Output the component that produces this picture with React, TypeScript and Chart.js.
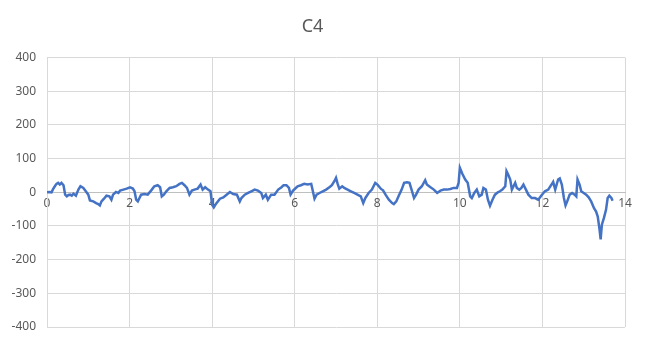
import React, { useEffect, useRef } from "react";
import { Chart, registerables } from "chart.js";

Chart.register(...registerables);

const xValues = [
  0, 0.05, 0.11, 0.15, 0.19, 0.23, 0.27, 0.31, 0.35, 0.4, 0.44, 0.48, 0.52, 0.56, 0.6, 0.64, 0.7, 0.76, 0.81, 0.88,
  0.94, 1.0, 1.04, 1.12, 1.19, 1.24, 1.28, 1.32, 1.38, 1.44, 1.51, 1.56, 1.6, 1.67, 1.73, 1.77, 1.85, 1.93, 2.01,
  2.08, 2.12, 2.16, 2.2, 2.24, 2.28, 2.36, 2.44, 2.52, 2.6, 2.68, 2.74, 2.78, 2.83, 2.89, 2.97, 3.05, 3.13, 3.21,
  3.27, 3.33, 3.39, 3.45, 3.51, 3.57, 3.65, 3.72, 3.77, 3.83, 3.9, 3.96, 4.0, 4.04, 4.1, 4.19, 4.27, 4.35, 4.43,
  4.51, 4.6, 4.67, 4.71, 4.79, 4.87, 4.95, 5.03, 5.11, 5.19, 5.23, 5.3, 5.35, 5.43, 5.51, 5.6, 5.68, 5.73, 5.8,
  5.86, 5.9, 5.96, 6.02, 6.07, 6.15, 6.23, 6.31, 6.4, 6.44, 6.48, 6.53, 6.6, 6.68, 6.76, 6.84, 6.9, 6.96, 7.0,
  7.04, 7.08, 7.15, 7.2, 7.28, 7.36, 7.44, 7.52, 7.6, 7.66, 7.71, 7.79, 7.87, 7.95, 8.01, 8.09, 8.14, 8.2, 8.28,
  8.36, 8.4, 8.46, 8.52, 8.59, 8.65, 8.72, 8.78, 8.83, 8.89, 8.94, 9.0, 9.08, 9.16, 9.2, 9.28, 9.37, 9.45, 9.53,
  9.61, 9.69, 9.77, 9.85, 9.93, 9.97, 10.0, 10.06, 10.13, 10.19, 10.25, 10.29, 10.35, 10.41, 10.47, 10.53, 10.57,
  10.63, 10.68, 10.73, 10.79, 10.85, 10.92, 10.97, 11.03, 11.1, 11.13, 11.17, 11.22, 11.26, 11.3, 11.34, 11.38,
  11.44, 11.49, 11.54, 11.6, 11.66, 11.74, 11.82, 11.9, 11.97, 12.06, 12.14, 12.22, 12.26, 12.31, 12.38, 12.42,
  12.47, 12.52, 12.56, 12.6, 12.66, 12.72, 12.78, 12.82, 12.85, 12.9, 12.94, 13.0, 13.06, 13.12, 13.18, 13.25,
  13.3, 13.34, 13.38, 13.41, 13.44, 13.49, 13.54, 13.58, 13.62, 13.67, 13.7,
];

const yValues = [
  0, 1, 0, 10, 18, 25, 28, 23, 28, 21, -7, -12, -8, -7, -10, -4, -10, 8, 18, 13,
  3, -7, -24, -27, -32, -35, -39, -27, -19, -10, -12, -22, -7, 1, -2, 5, 8, 11, 15,
  11, 3, -22, -27, -17, -7, -5, -7, 5, 18, 21, 15, -12, -7, 3, 13, 15, 18, 25,
  28, 21, 13, -7, 5, 8, 11, 23, 8, 15, 8, 3, -37, -45, -33, -19, -15, -7, 1,
  -5, -7, -27, -17, -7, -2, 3, 8, 5, -2, -17, -7, -22, -7, -7, 8, 15, 21, 21,
  13, -7, 5, 12, 18, 21, 25, 23, 25, 3, -19, -7, -2, 3, 8, 15, 21, 33, 43,
  25, 11, 18, 13, 8, 3, -2, -7, -12, -32, -17, -2, 8, 28, 22, 10, 6, -7, -22,
  -32, -35, -27, -10, 8, 28, 30, 28, 8, -17, -7, 8, 18, 36, 23, 16, 8, -2, 5,
  8, 8, 10, 13, 13, 28, 73, 55, 38, 28, -12, -17, -2, 8, -12, -7, 13,
  8, -22, -40, -22, -7, 0, 3, 8, 18, 63, 53, 38, 8, 18, 28, 13,
  8, 13, 23, 8, -7, -17, -17, -22, -10, 3, 8, 23, 31, 8, 38, 41,
  23, -17, -39, -27, -7, -2, -7, -12, 38, 23, 3, -2, -7, -15, -27, -47,
  -57, -72, -107, -140, -96, -76, -52, -17, -10, -17, -25,
];

const titleText = "C4";
const xTicks = { min: 0, max: 14, step: 2 };
const yTicks = { min: -400, max: 400, step: 100 };

export default function App() {
  const ref = useRef<HTMLCanvasElement | null>(null);

  useEffect(() => {
    if (!ref.current) return;
    const points = xValues.map((x, i) => ({ x, y: yValues[i] }));
    const font = { family: "'Noto Sans', 'Open Sans', sans-serif", size: 12 };
    const chart = new Chart(ref.current, {
      type: "scatter",
      data: {
        datasets: [
          {
            data: points,
            showLine: true,
            borderColor: "#4472C4",
            backgroundColor: "#4472C4",
            borderWidth: 2.5,
            pointRadius: 0,
            tension: 0,
          },
        ],
      },
      options: {
        animation: false,
        responsive: false,
        maintainAspectRatio: false,
        layout: { padding: { top: 16, right: 21, bottom: 13, left: 0 } },
        plugins: {
          legend: { display: false },
          tooltip: { enabled: false },
          title: {
            display: true,
            text: titleText,
            color: "#595959",
            font: { family: "'Noto Sans', 'Open Sans', sans-serif", size: 18, weight: "normal" },
            padding: { top: 0, bottom: 20 },
          },
        },
        scales: {
          x: {
            type: "linear",
            position: { y: 0 },
            min: xTicks.min,
            max: xTicks.max,
            ticks: { stepSize: xTicks.step, color: "#595959", font, padding: 4, maxRotation: 0 },
            grid: { color: "#d9d9d9", drawTicks: false, lineWidth: 1 },
            border: { display: true, color: "#bfbfbf" },
          },
          y: {
            type: "linear",
            min: yTicks.min,
            max: yTicks.max,
            ticks: { stepSize: yTicks.step, color: "#595959", font, padding: 11 },
            grid: { color: "#d9d9d9", drawTicks: false, lineWidth: 1 },
            border: { display: true, color: "#d9d9d9" },
            afterFit: (scale: any) => {
              scale.width = 47;
              scale.paddingTop = 0;
              scale.paddingBottom = 0;
            },
          },
        },
      },
    });
    return () => chart.destroy();
  }, []);

  return (
    <div style={{ position: "absolute", left: 0, top: 0, width: 646, height: 340 }}>
      <canvas ref={ref} width={646} height={340} style={{ width: 646, height: 340 }} />
    </div>
  );
}
